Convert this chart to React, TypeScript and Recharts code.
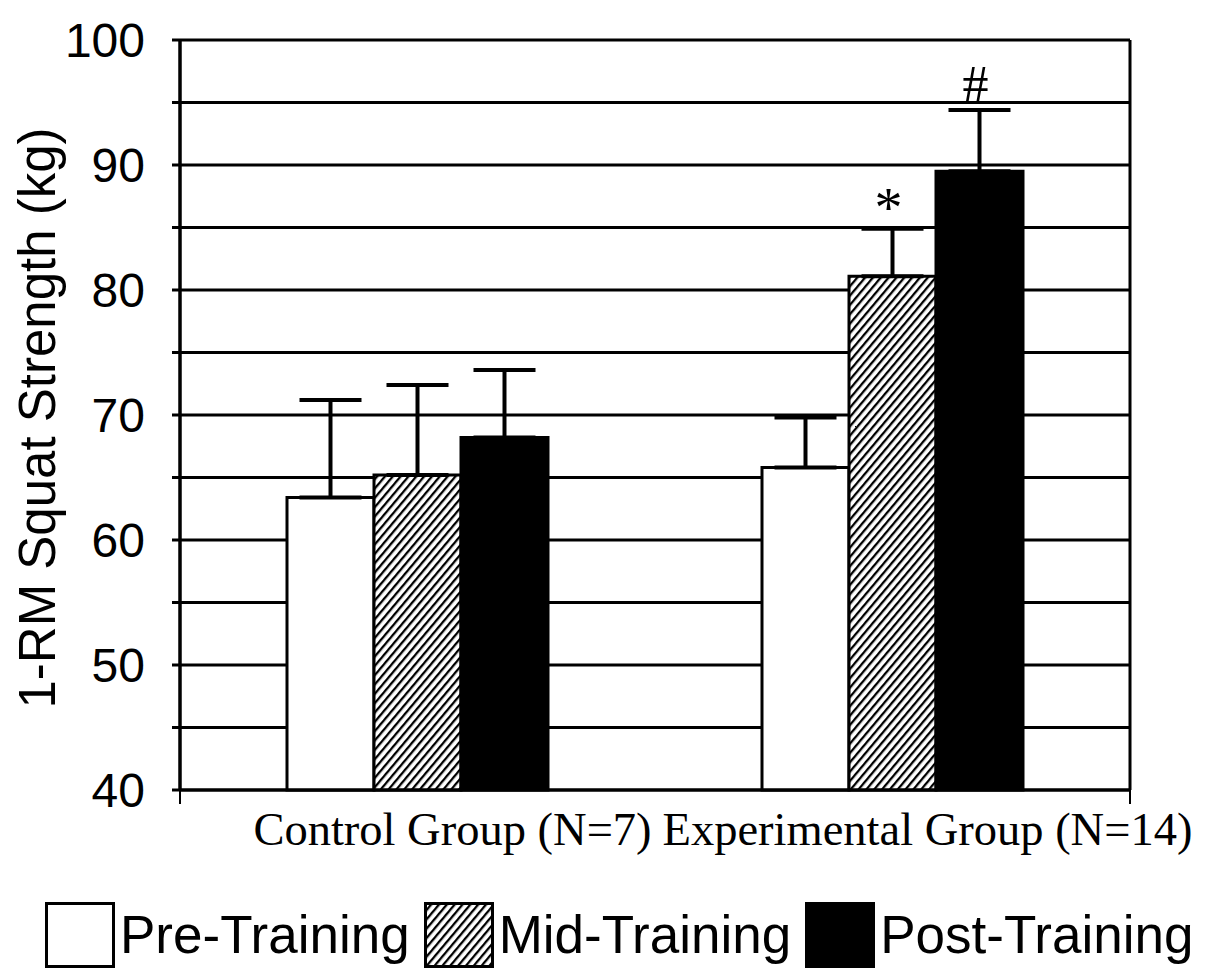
import React from "react";
import {
  BarChart,
  Bar,
  XAxis,
  YAxis,
  CartesianGrid,
  ErrorBar,
  LabelList,
  Legend,
  Label,
} from "recharts";

const groups = ["Control Group (N=7)", "Experimental Group (N=14)"];
const seriesNames = ["Pre-Training", "Mid-Training", "Post-Training"];
const preMeans = [63.4, 65.8];
const preErrs = [7.8, 4.0];
const midMeans = [65.2, 81.1];
const midErrs = [7.2, 3.8];
const postMeans = [68.2, 89.5];
const postErrs = [5.4, 4.9];
const midMarks = ["", "*"];
const postMarks = ["", "#"];
const yTicks = [40, 45, 50, 55, 60, 65, 70, 75, 80, 85, 90, 95, 100];
const dividerTicks = [0, 1, 2];

const SANS = "'Liberation Sans', Arial, Helvetica, sans-serif";
const SERIF = "'Liberation Serif', 'Times New Roman', Times, serif";

const chartData = groups.map((group, i) => ({
  group,
  pre: preMeans[i],
  preErr: [0, preErrs[i]],
  mid: midMeans[i],
  midErr: [0, midErrs[i]],
  midMark: midMarks[i],
  post: postMeans[i],
  postErr: [0, postErrs[i]],
  postMark: postMarks[i],
}));

function HatchSwatch({ id }: { id: string }) {
  return (
    <pattern id={id} patternUnits="userSpaceOnUse" width={6} height={6} patternTransform="rotate(40)">
      <rect width={6} height={6} fill="#fff" />
      <line x1={0} y1={0} x2={0} y2={6} stroke="#000" strokeWidth={4.6} />
    </pattern>
  );
}

function GroupTick(props: any) {
  const { x, y, payload } = props;
  return (
    <text x={x + 35} y={y + 31} textAnchor="middle" fontFamily={SERIF} fontSize={46.5} fill="#000">
      {payload.value}
    </text>
  );
}

function markLabel(means: number[], errs: number[], size: number, lift: number) {
  return (props: any) => {
    const { x, y, width, height, value, index } = props;
    if (!value) return null;
    const perUnit = height / (means[index] - 40);
    const capY = y - errs[index] * perUnit;
    return (
      <text x={x + width / 2 - 4} y={capY - lift} textAnchor="middle" fontFamily={SERIF} fontSize={size} fill="#000">
        {value}
      </text>
    );
  };
}

function LegendContent(props: any) {
  const payload = [...(props.payload || [])].sort(
    (a: any, b: any) => seriesNames.indexOf(a.value) - seriesNames.indexOf(b.value)
  );
  return (
    <div
      style={{
        display: "flex",
        alignItems: "center",
        fontFamily: SANS,
        fontSize: 53,
        color: "#000",
        whiteSpace: "nowrap",
      }}
    >
      {payload.map((entry: any, i: number) => (
        <div key={entry.value} style={{ display: "flex", alignItems: "center", marginRight: 14, flexShrink: 0 }}>
          <svg width={70} height={66} style={{ flexShrink: 0 }}>
            <defs>
              <HatchSwatch id={`legend-hatch-${i}`} />
            </defs>
            <rect
              x={1.5}
              y={1.5}
              width={67}
              height={63}
              fill={entry.color === "url(#hatch)" ? `url(#legend-hatch-${i})` : entry.color}
              stroke="#000"
              strokeWidth={3}
            />
          </svg>
          <span style={{ marginLeft: 5, lineHeight: "66px", whiteSpace: "nowrap" }}>{entry.value}</span>
        </div>
      ))}
    </div>
  );
}

function YTitle(props: any) {
  const { viewBox } = props;
  const cy = viewBox.y + viewBox.height / 2;
  return (
    <text
      transform={`translate(55, ${cy + 3}) rotate(-90)`}
      textAnchor="middle"
      fontFamily={SANS}
      fontSize={51}
      fill="#000"
    >
      1-RM Squat Strength (kg)
    </text>
  );
}

export default function App() {
  return (
    <div style={{ position: "absolute", left: 0, top: 0, background: "#fff" }}>
      <BarChart
        width={1205}
        height={972}
        data={chartData}
        margin={{ top: 40, right: 75, left: 0, bottom: 106 }}
        barSize={87}
        barGap={0}
      >
        <defs>
          <HatchSwatch id="hatch" />
        </defs>
        <CartesianGrid xAxisId="a-div" stroke="#000" strokeWidth={3} />
        <XAxis
          xAxisId="b-cat"
          dataKey="group"
          height={60}
          tickLine={false}
          axisLine={false}
          tick={<GroupTick />}
          interval={0}
        />
        <XAxis
          xAxisId="a-div"
          type="number"
          domain={[0, 2]}
          ticks={dividerTicks}
          allowDataOverflow
          height={16}
          tickSize={14}
          tickFormatter={() => ""}
          tickLine={{ stroke: "#000", strokeWidth: 2 }}
          axisLine={{ stroke: "#000", strokeWidth: 3 }}
        />
        <YAxis
          domain={[40, 100]}
          ticks={yTicks}
          width={180}
          tickSize={8}
          tickMargin={27}
          tickFormatter={(v: number) => (v % 10 === 0 ? String(v) : "")}
          tick={{ fontSize: 48, fill: "#000", fontFamily: SANS }}
          tickLine={{ stroke: "#000", strokeWidth: 3 }}
          axisLine={{ stroke: "#000", strokeWidth: 3 }}
        >
          <Label content={<YTitle />} />
        </YAxis>
        <Bar xAxisId="b-cat" dataKey="pre" name="Pre-Training" fill="#fff" stroke="#000" strokeWidth={3} isAnimationActive={false}>
          <ErrorBar dataKey="preErr" direction="y" width={31} stroke="#000" strokeWidth={4} />
        </Bar>
        <Bar xAxisId="b-cat" dataKey="mid" name="Mid-Training" fill="url(#hatch)" stroke="#000" strokeWidth={3} isAnimationActive={false}>
          <ErrorBar dataKey="midErr" direction="y" width={31} stroke="#000" strokeWidth={4} />
          <LabelList dataKey="midMark" content={markLabel(midMeans, midErrs, 56, 2)} />
        </Bar>
        <Bar xAxisId="b-cat" dataKey="post" name="Post-Training" fill="#000" stroke="#000" strokeWidth={3} isAnimationActive={false}>
          <ErrorBar dataKey="postErr" direction="y" width={31} stroke="#000" strokeWidth={4} />
          <LabelList dataKey="postMark" content={markLabel(postMeans, postErrs, 52, 8)} />
        </Bar>
        <Legend
          verticalAlign="middle"
          align="center"
          content={<LegendContent />}
          wrapperStyle={{ top: 902, left: 45, width: 1160 }}
        />
      </BarChart>
    </div>
  );
}
